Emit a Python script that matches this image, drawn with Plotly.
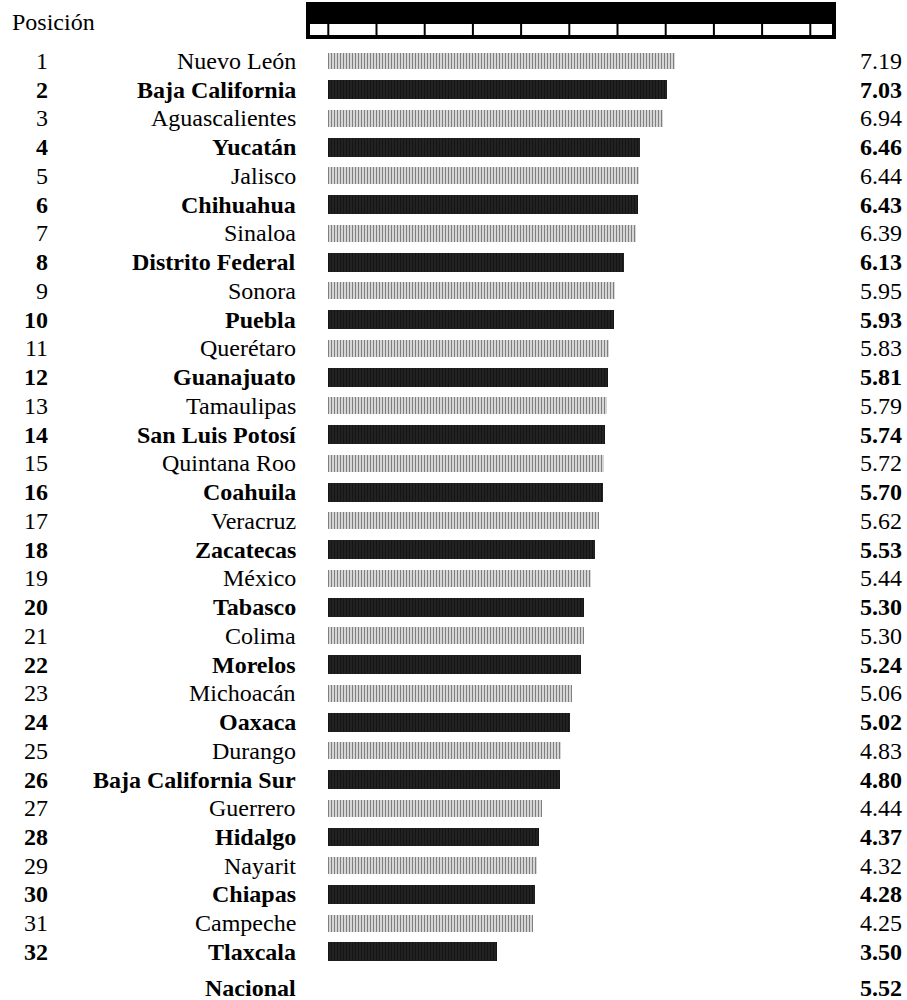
import plotly.graph_objects as go

# ranking data
positions = list(range(1, 33))
states = [
    "Nuevo León", "Baja California", "Aguascalientes", "Yucatán", "Jalisco",
    "Chihuahua", "Sinaloa", "Distrito Federal", "Sonora", "Puebla",
    "Querétaro", "Guanajuato", "Tamaulipas", "San Luis Potosí", "Quintana Roo",
    "Coahuila", "Veracruz", "Zacatecas", "México", "Tabasco",
    "Colima", "Morelos", "Michoacán", "Oaxaca", "Durango",
    "Baja California Sur", "Guerrero", "Hidalgo", "Nayarit", "Chiapas",
    "Campeche", "Tlaxcala",
]
values = [
    7.19, 7.03, 6.94, 6.46, 6.44, 6.43, 6.39, 6.13, 5.95, 5.93,
    5.83, 5.81, 5.79, 5.74, 5.72, 5.70, 5.62, 5.53, 5.44, 5.30,
    5.30, 5.24, 5.06, 5.02, 4.83, 4.80, 4.44, 4.37, 4.32, 4.28,
    4.25, 3.50,
]
national_label = "Nacional"
national_value = 5.52
national_pos = 33.25
scale_ticks = list(range(11))

# page geometry: value units -> px, rank -> px
X0_PX, X_SCALE = 328.3, 48.2
Y0_PX, Y_SCALE = 61.0, 28.74
W, H = 907, 1000


def xd(px):
    return (px - X0_PX) / X_SCALE


def yd(px):
    return (px - Y0_PX) / Y_SCALE + 1


FONT = "Liberation Serif"
FS = 24

fig = go.Figure()

odd = [i for i, p in enumerate(positions) if p % 2 == 1]
even = [i for i, p in enumerate(positions) if p % 2 == 0]

fig.add_trace(go.Bar(
    x=[values[i] for i in odd], y=[positions[i] for i in odd],
    orientation="h", width=0.59, base=0,
    marker=dict(color="white", line=dict(width=0),
                pattern=dict(shape="|", fgcolor="black", bgcolor="white", size=3, solidity=0.55)),
    showlegend=False, hoverinfo="skip",
))
fig.add_trace(go.Bar(
    x=[values[i] for i in even], y=[positions[i] for i in even],
    orientation="h", width=0.66, base=0,
    marker=dict(color="white", line=dict(width=0),
                pattern=dict(shape="|", fgcolor="black", bgcolor="#2a2a2a", size=3, solidity=0.6)),
    showlegend=False, hoverinfo="skip",
))

# scale box at the top
fig.add_shape(type="rect", x0=xd(307), x1=xd(835), y0=yd(3), y1=yd(38),
              fillcolor="black", line=dict(color="black", width=2))
fig.add_shape(type="rect", x0=xd(309), x1=xd(833), y0=yd(23), y1=yd(36),
              fillcolor="white", line=dict(color="black", width=2))
for t in scale_ticks:
    fig.add_shape(type="line", x0=t, x1=t, y0=yd(24), y1=yd(36),
                  line=dict(color="black", width=2))

anns = [dict(x=xd(10), y=yd(22), text="Posición", xanchor="left", yanchor="middle",
             showarrow=False, font=dict(family=FONT, size=FS, color="black"))]
for p, s, v in zip(positions, states, values):
    bold = p % 2 == 0
    fmt = (lambda t: f"<b>{t}</b>") if bold else (lambda t: t)
    f = dict(family=FONT, size=FS, color="black")
    anns.append(dict(x=xd(50), y=p, text=fmt(str(p)), xanchor="right", yanchor="middle",
                     showarrow=False, font=f))
    anns.append(dict(x=xd(298), y=p, text=fmt(s), xanchor="right", yanchor="middle",
                     showarrow=False, font=f))
    anns.append(dict(x=xd(904), y=p, text=fmt(f"{v:.2f}"), xanchor="right", yanchor="middle",
                     showarrow=False, font=f))
anns.append(dict(x=xd(298), y=national_pos, text=f"<b>{national_label}</b>", xanchor="right",
                 yanchor="middle", showarrow=False, font=dict(family=FONT, size=FS, color="black")))
anns.append(dict(x=xd(904), y=national_pos, text=f"<b>{national_value:.2f}</b>", xanchor="right",
                 yanchor="middle", showarrow=False, font=dict(family=FONT, size=FS, color="black")))

fig.update_xaxes(range=[xd(0), xd(W)], visible=False, fixedrange=True)
fig.update_yaxes(range=[yd(H), yd(0)], visible=False, fixedrange=True)
fig.update_layout(
    width=W, height=H,
    margin=dict(l=0, r=0, t=0, b=0),
    paper_bgcolor="white", plot_bgcolor="white",
    bargap=0, annotations=anns,
)

# drop the browser's default body margin so the figure fills the window
fig.write_html(
    "out.html",
    config={"displayModeBar": False, "staticPlot": True},
    post_script="document.body.style.margin='0';document.body.style.overflow='hidden';",
)
